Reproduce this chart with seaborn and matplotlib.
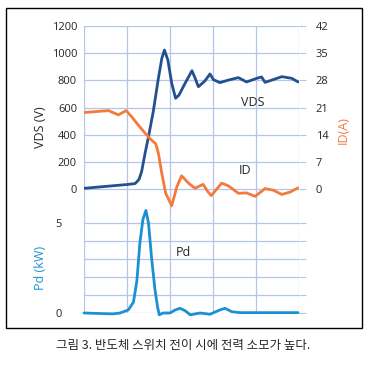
import numpy as np
import pandas as pd
import matplotlib
matplotlib.use("Agg")
import matplotlib.pyplot as plt
from matplotlib.patches import Rectangle
import seaborn as sns

# time in grid units (one vertical grid line per unit)
vds_t = [0.00, 1.00, 1.19, 1.28, 1.34, 1.42, 1.50, 1.61, 1.73, 1.81, 1.87, 1.95, 2.04,
         2.13, 2.21, 2.35, 2.51, 2.57, 2.66, 2.81, 2.93, 3.01, 3.16, 3.36, 3.59, 3.78,
         4.02, 4.13, 4.21, 4.37, 4.60, 4.83, 4.98]
vds_v = [5, 33, 40, 71, 128, 263, 385, 569, 815, 962, 1023, 950, 778,
         668, 692, 778, 871, 827, 753, 795, 847, 805, 783, 802, 820, 788,
         815, 825, 785, 802, 827, 815, 788]

id_t = [0.00, 0.57, 0.80, 0.98, 1.11, 1.26, 1.42, 1.57, 1.67, 1.73, 1.81, 1.90, 2.04,
        2.16, 2.27, 2.43, 2.58, 2.77, 2.88, 2.96, 3.20, 3.36, 3.59, 3.78, 3.98, 4.21,
        4.40, 4.60, 4.79, 4.98]
id_a = [19.7, 20.2, 19.1, 20.2, 18.6, 16.5, 14.4, 12.6, 11.6, 9.2, 4.0, -1.1, -4.3,
        0.6, 3.4, 1.5, 0.2, 1.2, -0.7, -1.7, 1.5, 0.8, -1.1, -1.0, -1.9, 0.1,
        -0.3, -1.4, -0.8, 0.3]

pd_t = [0.00, 0.67, 0.84, 1.03, 1.15, 1.23, 1.30, 1.37, 1.44, 1.50, 1.57, 1.65, 1.71,
        1.75, 1.84, 2.00, 2.12, 2.23, 2.35, 2.47, 2.70, 2.93, 3.16, 3.28, 3.44, 3.63, 4.98]
pd_kw = [0.0, -0.05, 0.0, 0.17, 0.6, 1.8, 3.9, 5.2, 5.7, 5.0, 3.1, 1.3, 0.35,
         -0.1, 0.0, 0.0, 0.17, 0.26, 0.13, -0.1, 0.0, -0.07, 0.17, 0.26, 0.07, 0.02, 0.02]

vds_ticks = [0, 200, 400, 600, 800, 1000, 1200]
id_ticks = [0, 7, 14, 21, 28, 35, 42]
pd_ticks = [0, 1, 2, 3, 4, 5]
pd_labels = ["0", "", "", "", "", "5"]
caption = "그림 3. 반도체 스위치 전이 시에 전력 소모가 높다."

c_vds = "#23508f"
c_id = "#f47a3c"
c_pd = "#1b91d2"
c_grid = "#b3c6ea"

sns.set_style("white")
plt.rcParams["font.family"] = ["Open Sans", "DejaVu Sans"]
plt.rcParams["font.size"] = 8
plt.rcParams["lines.solid_joinstyle"] = "round"
plt.rcParams["lines.solid_capstyle"] = "round"

W, H = 381, 366
fig = plt.figure(figsize=(W / 100, H / 100), dpi=100)

def box(x0, y0, x1, y1):
    return [x0 / W, 1 - y1 / H, (x1 - x0) / W, (y1 - y0) / H]

# bottom panel (Pd)
axp = fig.add_axes(box(84, 205, 299, 313))
sns.lineplot(x=pd_t, y=pd_kw, ax=axp, color=c_pd, lw=2.0, sort=False, estimator=None)
for l in axp.lines:
    l.set_clip_on(False)
axp.set_xlim(0, 5)
axp.set_ylim(0, 6)
axp.set_yticks(pd_ticks)
axp.set_yticklabels(pd_labels)
axp.set_xticks(range(6))
axp.set_xticklabels([])
axp.grid(True, color=c_grid, lw=0.9)
axp.tick_params(axis="y", left=False, right=True, length=5, color=c_grid, pad=11)
axp.tick_params(axis="x", length=0)
for s in axp.spines.values():
    s.set_visible(False)
axp.patch.set_alpha(0)

# top panel (VDS / ID)
per_px = 1200 / 163
ax = fig.add_axes(box(84, 26, 299, 210))
sns.lineplot(x=vds_t, y=vds_v, ax=ax, color=c_vds, lw=2.0, sort=False, estimator=None)
ax.set_xlim(0, 5)
ax.set_ylim(-(210 - 189) * per_px, 1200)
ax.set_yticks(vds_ticks)
ax.set_xticks(range(6))
ax.set_xticklabels([])
ax.grid(True, color=c_grid, lw=0.9)
ax.tick_params(axis="y", length=0, pad=5)
ax.tick_params(axis="x", length=0)
ax.set_xlabel("")
ax.set_ylabel("")
for s in ax.spines.values():
    s.set_visible(False)
ax.patch.set_alpha(0)

ax2 = ax.twinx()
sns.lineplot(x=id_t, y=id_a, ax=ax2, color=c_id, lw=2.0, sort=False, estimator=None)
lo, hi = ax.get_ylim()
ax2.set_ylim(lo * 42 / 1200, hi * 42 / 1200)
ax2.set_yticks(id_ticks)
ax2.tick_params(axis="y", length=5, color=c_grid, pad=7)
ax2.set_ylabel("")
for s in ax2.spines.values():
    s.set_visible(False)

# axis titles and annotations
fig.text(40 / W, 1 - 127 / H, "VDS (V)", rotation=90, ha="center", va="center", fontsize=9)
fig.text(343 / W, 1 - 130 / H, "ID(A)", rotation=90, ha="center", va="center", fontsize=9, color=c_id)
fig.text(40 / W, 1 - 268 / H, "Pd (kW)", rotation=90, ha="center", va="center", fontsize=9, color=c_pd)
fig.text(253 / W, 1 - 102 / H, "VDS", ha="center", va="center", fontsize=9)
fig.text(245 / W, 1 - 171 / H, "ID", ha="center", va="center", fontsize=9)
fig.text(183 / W, 1 - 253 / H, "Pd", ha="center", va="center", fontsize=9)

fig.patches.append(Rectangle((6 / W, 1 - 328 / H), 356 / W, 320 / H, transform=fig.transFigure,
                             fill=False, ec="black", lw=1.0))
fig.text(183 / W, 1 - 346 / H, caption, ha="center", va="center", fontsize=9,
         family=["Noto Sans CJK KR", "DejaVu Sans"])

fig.savefig("out.png", dpi=100)
